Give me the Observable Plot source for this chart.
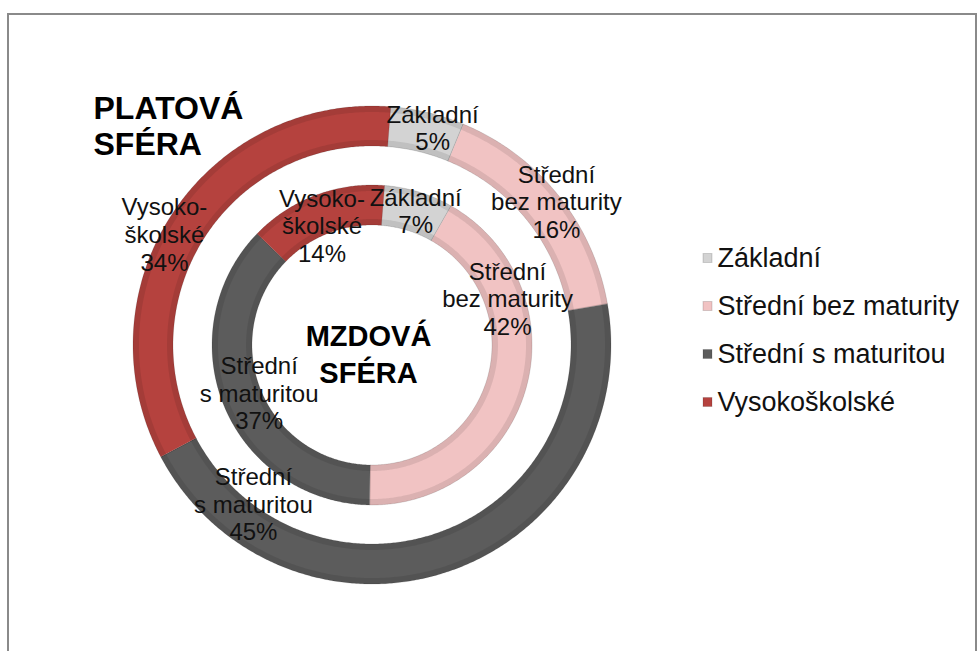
<!DOCTYPE html>
<html>
<head>
<meta charset="utf-8">
<script src="https://cdn.jsdelivr.net/npm/d3@7"></script>
<script src="https://cdn.jsdelivr.net/npm/@observablehq/plot@0.6"></script>
<style>
  html, body { margin: 0; padding: 0; background: #fff; }
  #wrap { position: relative; width: 979px; height: 651px; overflow: hidden; }
  #frame { position: absolute; left: 7px; top: 13px; width: 966px; height: 700px;
           border: 2px solid #8a8a8a; border-bottom: none; pointer-events: none; }
</style>
</head>
<body>
<div id="wrap"><div id="frame"></div></div>
<script>
// ---- data ----
const categories = ["Základní", "Střední bez maturity", "Střední s maturitou", "Vysokoškolské"];
const labelNames = ["Základní", "Střední\nbez maturity", "Střední\ns maturitou", "Vysoko-\nškolské"];
const platova = [5, 16, 45, 34];   // outer ring: PLATOVÁ SFÉRA
const mzdova = [7, 42, 37, 14];    // inner ring: MZDOVÁ SFÉRA
const colors = ["#d3d3d3", "#f1c3c3", "#5c5c5c", "#b5423e"];

// ---- layout ----
const W = 979, H = 651;
const CX = 372, CY = 345, ROT = 4.5;
const rings = [
  {key: "outer", values: platova, r0: 199, r1: 239},
  {key: "inner", values: mzdova, r0: 120, r1: 160}
];
// manual label nudges (Excel labels that were dragged)
const nudge = {
  "outer-0": [9, -5], "outer-1": [13, -7], "outer-2": [-190, -49], "outer-3": [-25, 9],
  "inner-0": [2, -1], "inner-1": [0, -84], "inner-2": [16, -6], "inner-3": [-1, 11]
};

const rad = a => a * Math.PI / 180;
const px = (r, a) => CX + r * Math.sin(rad(a));
const py = (r, a) => CY - r * Math.cos(rad(a));

const segPoints = [];
const edgePoints = [];
const labels = [];
for (const ring of rings) {
  let cum = 0;
  ring.values.forEach((v, i) => {
    const a0 = cum / 100 * 360 + ROT;
    const a1 = (cum + v) / 100 * 360 + ROT;
    const n = Math.max(2, Math.ceil((a1 - a0) / 0.5));
    for (let k = 0; k <= n; k++) {
      const a = a0 + (a1 - a0) * k / n;
      segPoints.push({key: ring.key + i, cat: categories[i],
        xo: px(ring.r1, a), yo: py(ring.r1, a), xi: px(ring.r0, a), yi: py(ring.r0, a)});
      // bevel shading bands
      edgePoints.push({key: ring.key + i + "o",
        xo: px(ring.r1, a), yo: py(ring.r1, a), xi: px(ring.r1 - 6, a), yi: py(ring.r1 - 6, a)});
      edgePoints.push({key: ring.key + i + "i",
        xo: px(ring.r0 + 6, a), yo: py(ring.r0 + 6, a), xi: px(ring.r0, a), yi: py(ring.r0, a)});
    }
    const am = (a0 + a1) / 2, rm = (ring.r0 + ring.r1) / 2;
    const [dx, dy] = nudge[ring.key + "-" + i];
    labels.push({x: px(rm, am) + dx, y: py(rm, am) + dy, text: labelNames[i] + "\n" + v + "%"});
    cum += v;
  });
}
edgePoints.sort((a, b) => a.key < b.key ? -1 : a.key > b.key ? 1 : 0);

const legendTop = 258, legendStep = 48, legendX = 703;

const chart = Plot.plot({
  width: W, height: H, margin: 0,
  x: {domain: [0, W], range: [0, W], axis: null},
  y: {domain: [0, H], range: [0, H], axis: null},
  color: {type: "ordinal", domain: categories, range: colors},
  style: {fontFamily: "'Liberation Sans', Arial, sans-serif", background: "transparent", color: "#000"},
  marks: [
    Plot.area(segPoints, {x1: "xo", y1: "yo", x2: "xi", y2: "yi", z: "key", fill: "cat",
      stroke: "#000", strokeOpacity: 0.12, strokeWidth: 1}),
    Plot.area(edgePoints, {x1: "xo", y1: "yo", x2: "xi", y2: "yi", z: "key", fill: "#000", fillOpacity: 0.09}),
    Plot.text(labels, {x: "x", y: "y", text: "text", fontSize: 24, lineHeight: 1.15,
      textAnchor: "middle", fill: "#111"}),
    Plot.text(["PLATOVÁ\nSFÉRA"], {x: () => 93, y: () => 125, text: d => d, textAnchor: "start",
      fontSize: 32, fontWeight: "bold", lineHeight: 1.13, fill: "#000"}),
    Plot.text(["MZDOVÁ\nSFÉRA"], {x: () => 368, y: () => 352, text: d => d, textAnchor: "middle",
      fontSize: 29, fontWeight: "bold", lineHeight: 1.27, fill: "#000"}),
    Plot.rect(categories, {x1: () => legendX, x2: () => legendX + 9,
      y1: (d, i) => legendTop + legendStep * i - 4.5, y2: (d, i) => legendTop + legendStep * i + 4.5,
      fill: d => d, stroke: "#000", strokeOpacity: 0.15}),
    Plot.text(categories, {x: () => legendX + 14, y: (d, i) => legendTop + legendStep * i,
      text: d => d, textAnchor: "start", fontSize: 27, fill: "#111"})
  ]
});
document.getElementById("wrap").prepend(chart);
</script>
</body>
</html>
